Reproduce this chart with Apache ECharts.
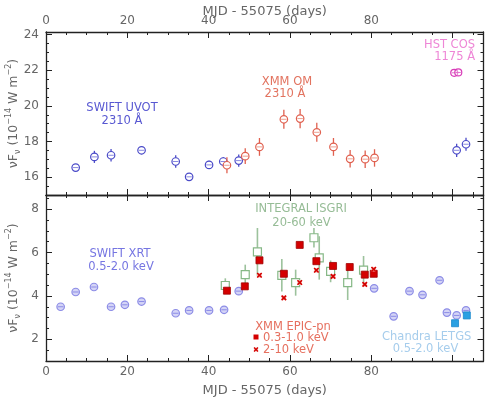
<!DOCTYPE html>
<html><head><meta charset="utf-8">
<script src="https://cdn.jsdelivr.net/npm/echarts@6/dist/echarts.min.js"></script>
<style>html,body{margin:0;padding:0;background:#fff}#c{width:487px;height:400px}</style>
</head><body><div id="c"></div>
<script>
// ---- data (x = MJD - 55075 in days, y = nuF_nu in 1e-14 W m^-2) ----
const xTicks = [0, 20, 40, 60, 80, 100];
const topTicks = [16, 18, 20, 22, 24];
const botTicks = [2, 4, 6, 8];

const uvotDay  = [7.3, 11.9, 16.0, 23.5, 31.9, 35.2, 40.1, 43.6, 47.4, 101.0, 103.3];
const uvotFlux = [16.54, 17.14, 17.23, 17.51, 16.88, 16.02, 16.69, 16.88, 16.93, 17.51, 17.85];
const uvotErr  = [0.20, 0.34, 0.35, 0.22, 0.35, 0.19, 0.23, 0.26, 0.34, 0.37, 0.37];

const omDay  = [44.5, 49.0, 52.5, 58.5, 62.5, 66.6, 70.7, 74.8, 78.5, 80.8];
const omFlux = [16.67, 17.18, 17.70, 19.25, 19.29, 18.52, 17.70, 17.03, 17.01, 17.08];
const omErr  = [0.45, 0.44, 0.50, 0.53, 0.54, 0.53, 0.50, 0.49, 0.49, 0.49];

const hstDay  = [100.4, 101.4];
const hstFlux = [21.86, 21.88];

const xrtDay  = [3.6, 7.3, 11.8, 16.0, 19.4, 23.5, 31.9, 35.2, 40.1, 43.8, 47.4, 80.7, 85.5, 89.4, 92.6, 96.8, 98.6, 101.0, 103.3];
const xrtFlux = [3.50, 4.18, 4.41, 3.50, 3.59, 3.74, 3.20, 3.33, 3.33, 3.36, 4.22, 4.35, 3.06, 4.22, 4.05, 4.72, 3.23, 3.10, 3.33];
const xrtErr  = [0.08, 0.16, 0.10, 0.08, 0.10, 0.08, 0.07, 0.07, 0.07, 0.07, 0.08, 0.08, 0.07, 0.08, 0.08, 0.08, 0.07, 0.07, 0.07];

const isgriDay  = [44.1, 49.0, 52.0, 58.0, 61.4, 65.9, 67.2, 70.0, 74.2, 78.1];
const isgriFlux = [4.48, 4.98, 6.03, 4.95, 4.61, 6.68, 5.75, 5.13, 4.61, 5.19];
const isgriErr  = [0.33, 0.46, 1.10, 0.75, 0.60, 0.45, 1.00, 0.50, 0.80, 0.65];

const pnSoftDay  = [44.5, 48.9, 52.5, 58.5, 62.4, 66.5, 70.6, 74.7, 78.4, 80.6];
const pnSoftFlux = [4.24, 4.44, 5.64, 5.02, 6.35, 5.60, 5.38, 5.33, 4.98, 5.02];

const pnHardDay  = [52.5, 58.5, 62.4, 66.5, 70.6, 78.4, 80.6];
const pnHardFlux = [4.95, 3.91, 4.62, 5.18, 4.90, 4.53, 5.23];

const letgsDay  = [100.6, 103.5];
const letgsFlux = [2.74, 3.10];

// ---- helpers ----
const FONT = 'DejaVu Sans';
const zip = (xs, ys, es) => xs.map((x, i) => [x, ys[i], es ? es[i] : 0]);

function renderer(o) {
  return function (params, api) {
    const x = api.value(0), y = api.value(1), e = api.value(2);
    const c = api.coord([x, y]);
    const ch = [];
    if (e > 0) {
      const t = api.coord([x, y + e]), b = api.coord([x, y - e]);
      ch.push({ type: 'line', shape: { x1: c[0], y1: t[1], x2: c[0], y2: b[1] },
        style: { stroke: o.bar || o.color, lineWidth: o.barW || 1.3 } });
    }
    const s = o.size || 7;
    if (o.shape === 'circle') {
      ch.push({ type: 'circle', shape: { cx: c[0], cy: c[1], r: s / 2 },
        style: { fill: o.fill || '#fff', stroke: o.color, lineWidth: 1.2 } });
      if (o.midline) ch.push({ type: 'line', shape: { x1: c[0] - s / 2 + 1, y1: c[1], x2: c[0] + s / 2 - 1, y2: c[1] },
        style: { stroke: o.midline, lineWidth: 1 } });
    } else if (o.shape === 'osquare') {
      ch.push({ type: 'rect', shape: { x: c[0] - s / 2, y: c[1] - s / 2, width: s, height: s },
        style: { fill: '#fff', stroke: o.color, lineWidth: 1.2 } });
    } else if (o.shape === 'square') {
      ch.push({ type: 'rect', shape: { x: c[0] - s / 2, y: c[1] - s / 2, width: s, height: s },
        style: { fill: o.color, stroke: o.stroke || o.color, lineWidth: 0.8 } });
    } else if (o.shape === 'x') {
      const h = s / 2;
      ch.push({ type: 'rect', shape: { x: c[0] - h, y: c[1] - h, width: s, height: s },
        style: { fill: '#f6b8b0', stroke: 'none' } });
      ch.push({ type: 'line', shape: { x1: c[0] - h, y1: c[1] - h, x2: c[0] + h, y2: c[1] + h }, style: { stroke: o.color, lineWidth: 1.6 } });
      ch.push({ type: 'line', shape: { x1: c[0] - h, y1: c[1] + h, x2: c[0] + h, y2: c[1] - h }, style: { stroke: o.color, lineWidth: 1.6 } });
    }
    return { type: 'group', children: ch };
  };
}

function series(name, data, xi, yi, o) {
  return { type: 'custom', name, data, xAxisIndex: xi, yAxisIndex: yi,
    encode: { x: 0, y: 1 }, renderItem: renderer(o), clip: false, silent: true, z: o.z || 2 };
}

const X_MAX = 107.6;
const axisLine = { show: true, lineStyle: { color: '#222', width: 1.3 } };
const lblStyle = { color: '#666', fontFamily: FONT, fontSize: 12 };

function xAxis(grid, pos, showLabel, name, gap) {
  return {
    type: 'value', gridIndex: grid, position: pos, min: 0, max: X_MAX, interval: 20,
    axisLine, splitLine: { show: false },
    axisTick: { show: true, inside: true, length: 6, lineStyle: { color: '#222' } },
    minorTick: { show: true, splitNumber: 4, length: 3, lineStyle: { color: '#222' } },
    axisLabel: { show: showLabel, ...lblStyle, margin: 5, showMaxLabel: false,
      customValues: xTicks },
    name: name || '', nameLocation: 'middle', nameGap: gap || 20, nameMoveOverlap: false,
    nameTextStyle: { color: '#666', fontFamily: FONT, fontSize: 13 }
  };
}

const yName = '{a|νF}{s|ν}{a| (10}{p|−14}{a| W m}{p|−2}{a|)}';
const yNameStyle = {
  color: '#666', fontFamily: FONT, fontSize: 12.5,
  rich: {
    a: { fontFamily: FONT, fontSize: 12.5, color: '#666', lineHeight: 17 },
    s: { fontFamily: FONT, fontSize: 8, color: '#666', verticalAlign: 'bottom', lineHeight: 17 },
    p: { fontFamily: FONT, fontSize: 8, color: '#666', verticalAlign: 'top', lineHeight: 17 }
  }
};

function yAxes(grid, min, max, ticks) {
  const major = (pos, lbl) => ({
    type: 'value', gridIndex: grid, position: pos, min, max,
    axisLine, splitLine: { show: false },
    axisTick: { show: true, inside: true, length: 6, customValues: ticks, lineStyle: { color: '#222' } },
    axisLabel: { show: lbl, ...lblStyle, margin: 7, customValues: ticks },
    name: lbl ? yName : '', nameLocation: 'middle', nameRotate: 90, nameGap: 24, nameMoveOverlap: false,
    nameTextStyle: yNameStyle
  });
  const minor = (pos) => ({
    type: 'value', gridIndex: grid, position: pos, min, max, interval: 0.5,
    axisLine: { show: false }, splitLine: { show: false },
    axisTick: { show: true, inside: true, length: 3, lineStyle: { color: '#222' } },
    axisLabel: { show: false }
  });
  return [major('left', true), minor('left'), major('right', false), minor('right')];
}

function txt(x, y, text, color, align) {
  return { type: 'text', x, y, silent: true,
    style: { text, fill: color, font: '11.5px "DejaVu Sans"', fontFamily: FONT, fontSize: 11.5,
      align: align || 'center', textAlign: align || 'center', verticalAlign: 'middle', textVerticalAlign: 'middle' } };
}

const chart = echarts.init(document.getElementById('c'), null, { renderer: 'canvas' });
chart.setOption({
  animation: false,
  backgroundColor: '#fff',
  grid: [
    { left: 46, top: 32, width: 437.5, height: 163, containLabel: false, outerBoundsMode: 'none' },
    { left: 46, top: 195, width: 437.5, height: 166, containLabel: false, outerBoundsMode: 'none' }
  ],
  xAxis: [
    xAxis(0, 'bottom', false),
    xAxis(0, 'top', true, 'MJD - 55075 (days)', 13.5),
    xAxis(1, 'bottom', true, 'MJD - 55075 (days)', 23),
    xAxis(1, 'top', false)
  ],
  yAxis: [
    ...yAxes(0, 15, 24.15, topTicks),
    ...yAxes(1, 1, 8.65, botTicks)
  ],
  series: [
    series('SWIFT UVOT', zip(uvotDay, uvotFlux, uvotErr), 0, 0,
      { shape: 'circle', color: '#4a4ac8', size: 7.5, midline: '#8a8ae0' }),
    series('XMM OM', zip(omDay, omFlux, omErr), 0, 0,
      { shape: 'circle', color: '#e0604f', size: 7.5, midline: '#eca090' }),
    series('HST COS', zip(hstDay, hstFlux), 0, 0,
      { shape: 'circle', color: '#d83cb8', size: 7, fill: 'rgba(255,255,255,0.4)', midline: '#e070cc' }),
    series('SWIFT XRT', zip(xrtDay, xrtFlux, xrtErr), 2, 4,
      { shape: 'circle', color: '#8c8ce6', size: 7.5, fill: '#d4d4f6', midline: '#8c8ce6', bar: '#8c8ce6' }),
    series('INTEGRAL ISGRI', zip(isgriDay, isgriFlux, isgriErr), 2, 4,
      { shape: 'osquare', color: '#86b886', size: 8, bar: '#9cc29c', barW: 1.6 }),
    series('XMM EPIC-pn 0.3-1.0 keV', zip(pnSoftDay, pnSoftFlux), 2, 4,
      { shape: 'square', color: '#d40000', stroke: '#a00000', size: 7, z: 3 }),
    series('XMM EPIC-pn 2-10 keV', zip(pnHardDay, pnHardFlux), 2, 4,
      { shape: 'x', color: '#d40000', size: 4.5, z: 3 }),
    series('Chandra LETGS', zip(letgsDay, letgsFlux), 2, 4,
      { shape: 'square', color: '#2aa0e2', stroke: '#1a88cc', size: 7, z: 3 })
  ],
  graphic: [
    txt(122, 108, 'SWIFT UVOT', '#5858d2'),
    txt(122, 120.7, '2310 Å', '#5858d2'),
    txt(287, 81.7, 'XMM OM', '#e2735f'),
    txt(285, 93.8, '2310 Å', '#e2735f'),
    txt(475, 45, 'HST COS', '#ee86d6', 'right'),
    txt(475, 57.5, '1175 Å', '#ee86d6', 'right'),
    txt(120, 253.8, 'SWIFT XRT', '#7676e2'),
    txt(121, 267.2, '0.5-2.0 keV', '#7676e2'),
    txt(301, 209.5, 'INTEGRAL ISGRI', '#96bc96'),
    txt(301.5, 222.8, '20-60 keV', '#96bc96'),
    txt(293, 327.3, 'XMM EPIC-pn', '#e6705f'),
    { type: 'rect', silent: true, shape: { x: 253.5, y: 334.5, width: 5, height: 5 }, style: { fill: '#d40000' } },
    txt(263, 338.3, '0.3-1.0 keV', '#e6705f', 'left'),
    { type: 'rect', silent: true, shape: { x: 254, y: 347.5, width: 4, height: 4 }, style: { fill: '#f6b8b0' } },
    { type: 'line', silent: true, shape: { x1: 254, y1: 347.5, x2: 258, y2: 351.5 }, style: { stroke: '#d40000', lineWidth: 1.3 } },
    { type: 'line', silent: true, shape: { x1: 254, y1: 351.5, x2: 258, y2: 347.5 }, style: { stroke: '#d40000', lineWidth: 1.3 } },
    txt(263, 350, '2-10 keV', '#e6705f', 'left'),
    txt(426.7, 336.7, 'Chandra LETGS', '#a6cdec'),
    txt(425.5, 349.3, '0.5-2.0 keV', '#a6cdec')
  ]
});
</script>
</body></html>
